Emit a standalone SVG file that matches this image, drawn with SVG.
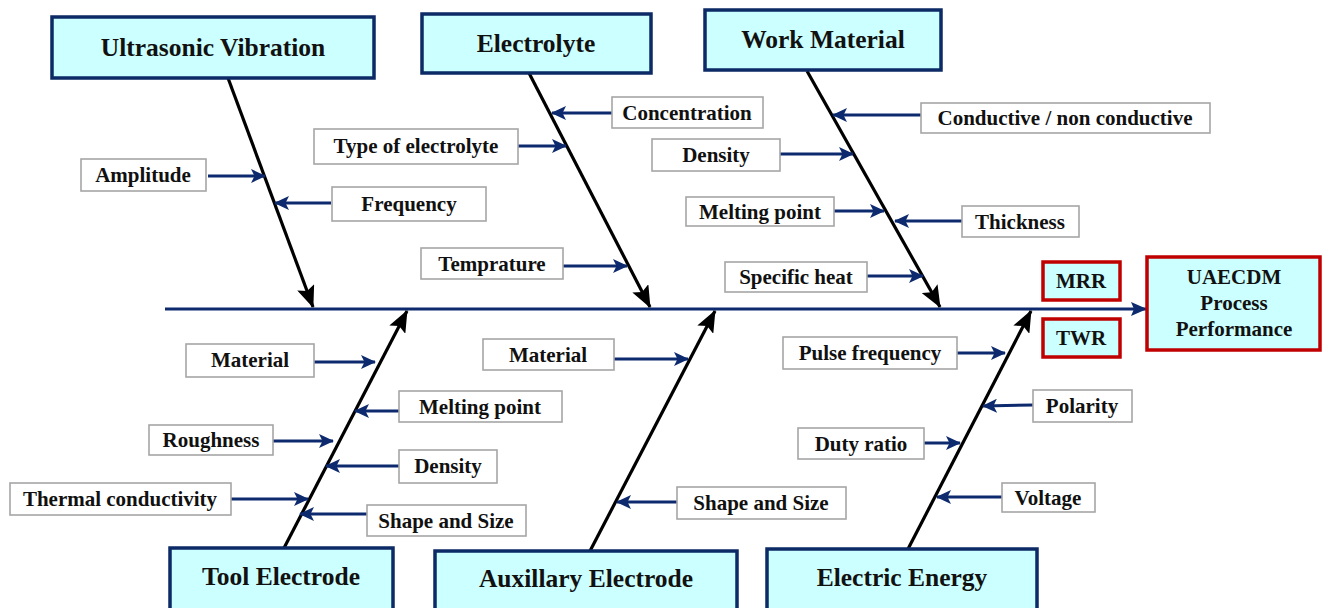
<svg xmlns="http://www.w3.org/2000/svg" width="1322" height="608" viewBox="0 0 1322 608">
<style>
.head{fill:#ccffff;stroke:#0b2a66;stroke-width:3.5}
.res{fill:#ccffff;stroke:#c00000;stroke-width:3.5}
.lab{fill:#ffffff;stroke:#a6a6a6;stroke-width:1.6}
.ht{font-family:"Liberation Serif",serif;font-weight:bold;font-size:25.5px;fill:#111;text-anchor:middle}
.lt{font-family:"Liberation Serif",serif;font-weight:bold;font-size:21px;fill:#111;text-anchor:middle}
.bone{stroke:#000;stroke-width:3.2;fill:none;marker-end:url(#big)}
.sub{stroke:#0d2a6e;stroke-width:3;fill:none;marker-end:url(#small)}
.spine{stroke:#0d2a6e;stroke-width:3;fill:none;marker-end:url(#sp)}
</style>
<defs>
<marker id="small" markerUnits="userSpaceOnUse" viewBox="0 0 15 14" markerWidth="15" markerHeight="14" refX="14" refY="7" orient="auto"><path d="M0,0 L15,7 L0,14 L3.5,7 z" fill="#0d2a6e"/></marker>
<marker id="big" markerUnits="userSpaceOnUse" viewBox="0 0 22 18" markerWidth="22" markerHeight="18" refX="21" refY="9" orient="auto"><path d="M0,0 L22,9 L0,18 L4,9 z" fill="#000"/></marker>
<marker id="sp" markerUnits="userSpaceOnUse" viewBox="0 0 16 14" markerWidth="16" markerHeight="14" refX="15" refY="7" orient="auto"><path d="M0,0 L16,7 L0,14 L3,7 z" fill="#0d2a6e"/></marker>
</defs>

<g id="connectors">
<path class="spine" d="M165,309 L1146,309"/>
<path class="bone" d="M228,78 L313,307"/>
<path class="bone" d="M529,73 L650,307"/>
<path class="bone" d="M807,71 L940,307"/>
<path class="bone" d="M284,548 L407,311"/>
<path class="bone" d="M590,551 L715,311"/>
<path class="bone" d="M908,549 L1031,311"/>
<path class="sub" d="M208,176 L265,176"/>
<path class="sub" d="M331,203 L275,203"/>
<path class="sub" d="M518,146 L566,146"/>
<path class="sub" d="M612,113 L552,113"/>
<path class="sub" d="M563,266 L627,266"/>
<path class="sub" d="M921,115 L833,115"/>
<path class="sub" d="M780,154 L853,154"/>
<path class="sub" d="M834,211 L884,211"/>
<path class="sub" d="M962,221 L895,221"/>
<path class="sub" d="M867,276 L923,276"/>
<path class="sub" d="M314,362 L375,362"/>
<path class="sub" d="M399,411 L355,411"/>
<path class="sub" d="M273,441 L333,441"/>
<path class="sub" d="M399,466 L326,466"/>
<path class="sub" d="M231,499 L308,499"/>
<path class="sub" d="M367,514 L300,514"/>
<path class="sub" d="M614,359 L688,359"/>
<path class="sub" d="M677,502 L617,502"/>
<path class="sub" d="M957,353 L1005,353"/>
<path class="sub" d="M1033,405 L983,406"/>
<path class="sub" d="M924,443 L960,443"/>
<path class="sub" d="M1002,497 L937,497"/>
</g>

<g id="ultrasonic-vibration"><rect class="head" x="52" y="17" width="322" height="61"/><text class="ht" x="213" y="56">Ultrasonic Vibration</text></g>
<g id="electrolyte"><rect class="head" x="422" y="14" width="229" height="59"/><text class="ht" x="536" y="52">Electrolyte</text></g>
<g id="work-material"><rect class="head" x="705" y="10" width="236" height="60"/><text class="ht" x="823" y="48">Work Material</text></g>
<g id="tool-electrode"><rect class="head" x="170" y="548" width="223" height="64"/><text class="ht" x="281" y="585">Tool Electrode</text></g>
<g id="auxillary-electrode"><rect class="head" x="435" y="551" width="302" height="64"/><text class="ht" x="586" y="587">Auxillary Electrode</text></g>
<g id="electric-energy"><rect class="head" x="767" y="549" width="270" height="64"/><text class="ht" x="902" y="586">Electric Energy</text></g>

<g id="uaecdm"><rect class="res" x="1147" y="257" width="173" height="93"/>
<text class="lt" x="1234" y="284">UAECDM</text><text class="lt" x="1234" y="310">Process</text><text class="lt" x="1234" y="336">Performance</text></g>
<g id="mrr"><rect class="res" x="1043" y="262" width="77" height="38"/><text class="lt" x="1081" y="288">MRR</text></g>
<g id="twr"><rect class="res" x="1043" y="319" width="77" height="38"/><text class="lt" x="1081" y="345">TWR</text></g>

<g id="amplitude"><rect class="lab" x="81" y="159" width="125" height="32"/><text class="lt" x="143" y="182">Amplitude</text></g>
<g id="frequency"><rect class="lab" x="332" y="187" width="154" height="34"/><text class="lt" x="409" y="211">Frequency</text></g>
<g id="type-of-electrolyte"><rect class="lab" x="314" y="129" width="204" height="35"/><text class="lt" x="416" y="153">Type of electrolyte</text></g>
<g id="concentration"><rect class="lab" x="612" y="97" width="151" height="31"/><text class="lt" x="687" y="120">Concentration</text></g>
<g id="temprature"><rect class="lab" x="421" y="248" width="142" height="31"/><text class="lt" x="492" y="271">Temprature</text></g>
<g id="conductive"><rect class="lab" x="921" y="103" width="289" height="30"/><text class="lt" x="1065" y="125">Conductive / non conductive</text></g>
<g id="wm-density"><rect class="lab" x="652" y="139" width="128" height="32"/><text class="lt" x="716" y="162">Density</text></g>
<g id="wm-melting-point"><rect class="lab" x="686" y="197" width="148" height="29"/><text class="lt" x="760" y="219">Melting point</text></g>
<g id="thickness"><rect class="lab" x="962" y="206" width="117" height="31"/><text class="lt" x="1020" y="229">Thickness</text></g>
<g id="specific-heat"><rect class="lab" x="725" y="262" width="142" height="30"/><text class="lt" x="796" y="284">Specific heat</text></g>

<g id="te-material"><rect class="lab" x="186" y="344" width="128" height="33"/><text class="lt" x="250" y="367">Material</text></g>
<g id="te-melting-point"><rect class="lab" x="399" y="391" width="163" height="31"/><text class="lt" x="480" y="414">Melting point</text></g>
<g id="roughness"><rect class="lab" x="149" y="425" width="124" height="30"/><text class="lt" x="211" y="447">Roughness</text></g>
<g id="te-density"><rect class="lab" x="399" y="450" width="98" height="33"/><text class="lt" x="448" y="473">Density</text></g>
<g id="thermal-conductivity"><rect class="lab" x="10" y="483" width="221" height="32"/><text class="lt" x="120" y="506">Thermal conductivity</text></g>
<g id="te-shape-size"><rect class="lab" x="367" y="505" width="159" height="31"/><text class="lt" x="446" y="528">Shape and Size</text></g>

<g id="ae-material"><rect class="lab" x="483" y="339" width="131" height="31"/><text class="lt" x="548" y="362">Material</text></g>
<g id="ae-shape-size"><rect class="lab" x="677" y="487" width="169" height="32"/><text class="lt" x="761" y="510">Shape and Size</text></g>

<g id="pulse-frequency"><rect class="lab" x="783" y="337" width="174" height="32"/><text class="lt" x="870" y="360">Pulse frequency</text></g>
<g id="polarity"><rect class="lab" x="1033" y="390" width="99" height="32"/><text class="lt" x="1082" y="413">Polarity</text></g>
<g id="duty-ratio"><rect class="lab" x="798" y="428" width="126" height="31"/><text class="lt" x="861" y="451">Duty ratio</text></g>
<g id="voltage"><rect class="lab" x="1002" y="483" width="93" height="29"/><text class="lt" x="1048" y="505">Voltage</text></g>
</svg>
